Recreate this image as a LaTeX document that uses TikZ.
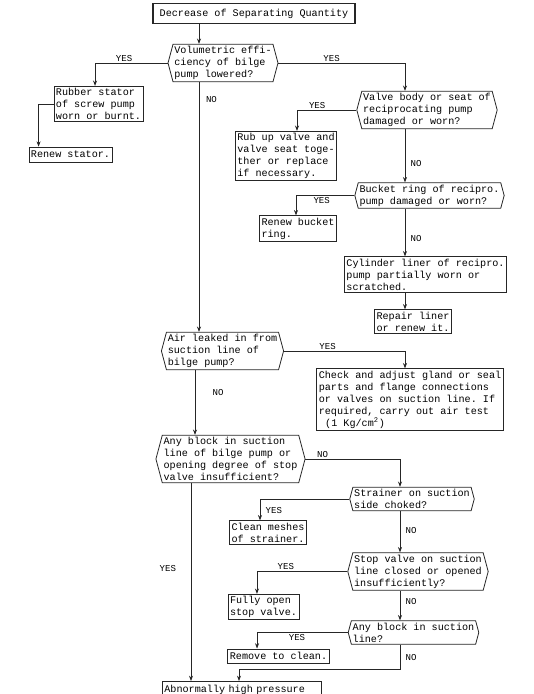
\documentclass[tikz,border=0pt]{standalone}
\usepackage{fontspec}
\newfontfamily\typer{Liberation Mono}
\frenchspacing
\usetikzlibrary{arrows.meta,positioning,shapes.symbols}
\tikzset{
  box/.style={draw=black!85,line width=0.6pt,fill=white,%
    font=\typer\fontsize{7.6}{9}\selectfont,inner xsep=1.5pt,inner ysep=1.5pt,align=left},
  query/.style={box,signal,signal to=east and west,signal pointer angle=150,inner xsep=1pt},
  flow/.style={-{Stealth[length=4pt,width=3pt]},line width=0.5pt,draw=black!85},
  tag/.style={font=\typer\fontsize{6.8}{8}\selectfont,inner sep=1pt},
}
\begin{document}
\begin{tikzpicture}[x=0.75pt,y=-0.75pt]
\useasboundingbox (0,0) rectangle (534,694);
% spine columns
\coordinate (m1) at (199,0);
\coordinate (m2) at (195,0);
\coordinate (m3) at (191,0);
\coordinate (r1) at (405,0);
\coordinate (r2) at (400,0);
% main column
\node[box,line width=1.2pt,inner xsep=5pt,inner ysep=4pt] (top) at (254,13.5) {Decrease of Separating Quantity};
\node[query] (vol) at (223,63) {Volumetric effi-\\ciency of bilge\\pump lowered?};
\node[query] (air) at (222.5,351) {Air leaked in from\\suction line of\\bilge pump?};
\node[query] (blk) at (230.5,459) {Any block in suction\\line of bilge pump or\\opening degree of stop\\valve insufficient?};
\node[box,anchor=north west,text width=116pt,inner ysep=2.5pt,text depth=12pt] (abn) at (162,681) {Abnormally high pressure};
% screw pump
\node[box] (rubber) at (98.5,104) {Rubber stator\\of screw pump\\worn or burnt.};
\node[box,inner ysep=3pt] (stator) at (70.5,154.5) {Renew stator.};
% reciprocating pump
\node[query] (valve) at (427,110) {Valve body or seat of\\reciprocating pump\\damaged or worn?};
\node[box] (rub) at (286,156) {Rub up valve and\\valve seat toge-\\ther or replace\\if necessary.};
\node[query] (bucket) at (429.5,195.5) {Bucket ring of recipro.\\pump damaged or worn?};
\node[box] (renewb) at (298,228.5) {Renew bucket\\ring.};
\node[box] (cyl) at (425.5,274.5) {Cylinder liner of recipro.\\pump partially worn or\\scratched.};
\node[box] (repair) at (413,321.5) {Repair liner\\or renew it.};
% suction line
\node[box] (check) at (410,399.5) {Check and adjust gland or seal\\parts and flange connections\\or valves on suction line. If\\required, carry out air test\\\hspace*{1.2ex}(1 Kg/cm\textsuperscript{2})};
\node[query] (strainer) at (412,499) {Strainer on suction\\side choked?};
\node[box] (clean) at (268,532.5) {Clean meshes\\of strainer.};
\node[query] (stop) at (418,571.5) {Stop valve on suction\\line closed or opened\\insufficiently?};
\node[box] (fully) at (263.5,607) {Fully open\\stop valve.};
\node[query] (blk2) at (413.5,632.5) {Any block in suction\\line?};
\node[box,inner ysep=2.5pt] (remove) at (278.5,656) {Remove to clean.};
% connectors
\draw[flow] (top.south -| m1) -- (vol.north -| m1);
\draw[flow] (vol.west) -| node[tag,above,pos=0.3]{YES} ([xshift=-2.6pt]rubber.north);
\draw[flow] (rubber.west) -| ([xshift=7.5pt]stator.north west);
\draw[flow] (vol.east) -| node[tag,above,pos=0.21]{YES} (valve.north -| r1);
\draw[flow] (valve.west) -| node[tag,above,pos=0.33]{YES} ([xshift=8.25pt]rub.north);
\draw[flow] (valve.south -| r1) -- node[tag,right=3pt,pos=0.65]{NO} (bucket.north -| r1);
\draw[flow] (bucket.west) -| node[tag,below,pos=0.28]{YES} ([xshift=-1.5pt]renewb.north);
\draw[flow] (bucket.south -| r1) -- node[tag,right=3pt,pos=0.63]{NO} (cyl.north -| r1);
\draw[flow] (cyl.south -| r1) -- (repair.north -| r1);
\draw[flow] (vol.south -| m1) -- node[tag,right=4pt,pos=0.07]{NO} (air.north -| m1);
\draw[flow] (air.east) -| node[tag,above,pos=0.18]{YES} (check.north -| r1);
\draw[flow] (air.south -| m2) -- node[tag,right=12pt,pos=0.35]{NO} (blk.north -| m2);
\draw[flow] (blk.east) -| node[tag,above,pos=0.09]{NO} (strainer.north -| r2);
\draw[flow] (strainer.west) -| node[tag,right=3pt,pos=0.78]{YES} ([xshift=-6pt]clean.north);
\draw[flow] (strainer.south -| r2) -- node[tag,right=3pt,pos=0.47]{NO} (stop.north -| r2);
\draw[flow] (stop.west) -| node[tag,above,pos=0.34]{YES} ([xshift=-4.9pt]fully.north);
\draw[flow] (stop.south -| r2) -- node[tag,right=3pt,pos=0.35]{NO} (blk2.north -| r2);
\draw[flow] (blk2.west) -| node[tag,below,pos=0.28]{YES} ([xshift=-16.1pt]remove.north);
\draw[flow] (blk2.south -| r2) -- node[tag,right=3pt,pos=0.5]{NO} ++(0,25) -| ([xshift=57.75pt]abn.north west);
\draw[flow] (blk.south -| m3) -- node[tag,left=10pt,pos=0.43]{YES} (abn.north west -| m3);
\end{tikzpicture}
\end{document}
